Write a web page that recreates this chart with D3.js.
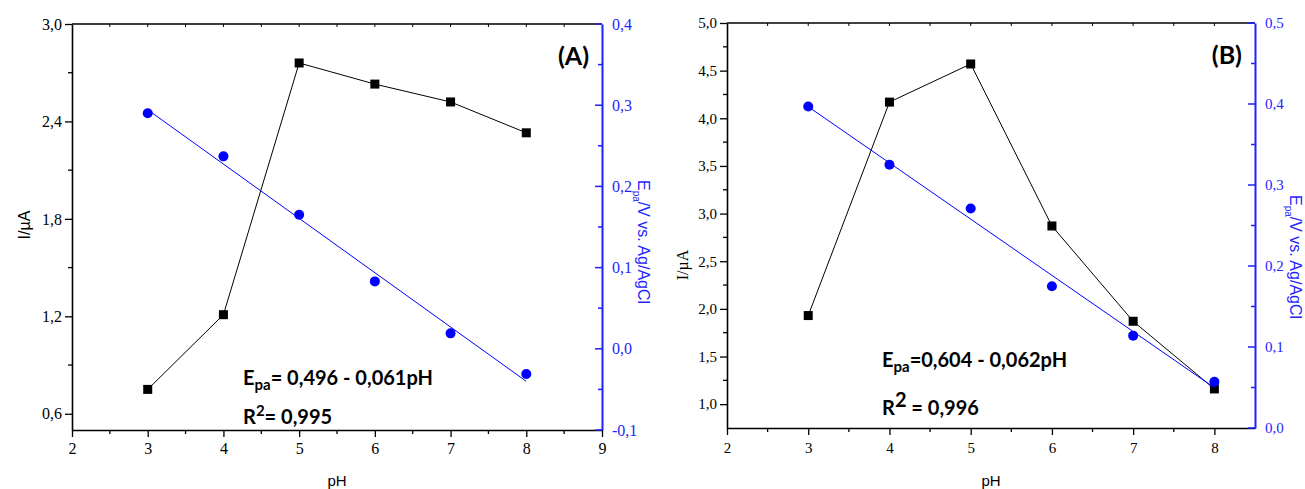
<!DOCTYPE html>
<html>
<head>
<meta charset="utf-8">
<script src="https://cdn.jsdelivr.net/npm/d3@7"></script>
<style>
  html, body { margin: 0; padding: 0; background: #fff; }
  svg { display: block; }
</style>
</head>
<body>
<svg id="chart" width="1305" height="489"></svg>
<script>
// pH values shared by both panels
const pH = [3, 4, 5, 6, 7, 8];

// Panel A: peak current (µA) and peak potential (V vs. Ag/AgCl)
const currentA = [0.75, 1.21, 2.76, 2.63, 2.52, 2.33];
const potentialA = [0.290, 0.237, 0.165, 0.083, 0.019, -0.031];

// Panel B
const currentB = [1.93, 4.17, 4.57, 2.87, 1.87, 1.16];
const potentialB = [0.397, 0.325, 0.271, 0.175, 0.114, 0.057];

// Axis ticks
const xTicksA = [2, 3, 4, 5, 6, 7, 8, 9];
const yLeftTicksA = [0.6, 1.2, 1.8, 2.4, 3.0];
const yRightTicksA = [-0.1, 0.0, 0.1, 0.2, 0.3, 0.4];
const xTicksB = [2, 3, 4, 5, 6, 7, 8];
const yLeftTicksB = [1.0, 1.5, 2.0, 2.5, 3.0, 3.5, 4.0, 4.5, 5.0];
const yRightTicksB = [0.0, 0.1, 0.2, 0.3, 0.4, 0.5];

// Annotations
const eqA = { lhs: "E", sub: "pa", rhs: "= 0,496 - 0,061pH", r2: "= 0,995", label: "(A)" };
const eqB = { lhs: "E", sub: "pa", rhs: "=0,604 - 0,062pH", r2: " = 0,996", label: "(B)" };

const BLUE = "#0000ff";
const AXIS_BLUE = "#1f1fff";
const SERIF = "'Liberation Serif', 'Times New Roman', serif";
const SANS = "'Liberation Sans', Arial, sans-serif";
const BOLD = "Lato, 'Open Sans', sans-serif";
const fmt = d3.formatLocale({ decimal: ",", thousands: ".", grouping: [3], currency: ["", ""], minus: "-" }).format(".1f");

const svg = d3.select("#chart");

// least-squares fit used for the straight line through the potential points
function fit(xs, ys) {
  const mx = d3.mean(xs), my = d3.mean(ys);
  let sxy = 0, sxx = 0;
  xs.forEach((x, i) => { sxy += (x - mx) * (ys[i] - my); sxx += (x - mx) * (x - mx); });
  const b = sxy / sxx;
  return { a: my - b * mx, b };
}

function styleText(sel, size, color) {
  sel.selectAll("text").attr("font-family", SERIF).style("font-family", SERIF)
    .attr("font-size", size).attr("fill", color);
}

function panel(cfg) {
  const g = svg.append("g");
  const x = d3.scaleLinear().domain(cfg.xDomain).range([cfg.left, cfg.right]);
  const yL = d3.scaleLinear().domain(cfg.yLDomain).range([cfg.bottom, cfg.top]);
  const yR = d3.scaleLinear().domain(cfg.yRDomain).range([cfg.bottom, cfg.top]);

  // left axis (current)
  const gl = g.append("g").attr("transform", `translate(${cfg.left},0)`)
    .call(d3.axisLeft(yL).tickValues(cfg.yLTicks).tickFormat(fmt).tickSize(7).tickPadding(3).tickSizeOuter(0));
  gl.selectAll(".tick line").attr("stroke", "#000").attr("stroke-width", 1.3);
  gl.select(".domain").attr("stroke", "#000").attr("stroke-width", 1.6);
  styleText(gl, cfg.tickFont, "#000");
  const yMinor = cfg.yLTicks.map(t => t - cfg.yLStep / 2).filter(v => v > cfg.yLDomain[0]);
  g.selectAll(".minorL").data(yMinor).join("line")
    .attr("x1", cfg.left - 4).attr("x2", cfg.left).attr("y1", d => yL(d)).attr("y2", d => yL(d))
    .attr("stroke", "#000").attr("stroke-width", 1.3);

  // bottom axis (pH)
  const gb = g.append("g").attr("transform", `translate(0,${cfg.bottom})`)
    .call(d3.axisBottom(x).tickValues(cfg.xTicks).tickFormat(d3.format("d")).tickSize(7).tickPadding(cfg.xPad).tickSizeOuter(0));
  gb.selectAll(".tick line").attr("stroke", "#000").attr("stroke-width", 1.3);
  gb.select(".domain").attr("stroke", "#000").attr("stroke-width", 1.6);
  styleText(gb, cfg.tickFont, "#000");
  const xMinor = d3.range(cfg.xDomain[0] + 0.5, cfg.xDomain[1], 1);
  g.selectAll(".minorB").data(xMinor).join("line")
    .attr("x1", d => x(d)).attr("x2", d => x(d)).attr("y1", cfg.bottom).attr("y2", cfg.bottom + 4)
    .attr("stroke", "#000").attr("stroke-width", 1.3);

  // top frame with small inward ticks
  g.append("line").attr("x1", cfg.left).attr("x2", cfg.right).attr("y1", cfg.top).attr("y2", cfg.top)
    .attr("stroke", "#000").attr("stroke-width", 1.6);
  g.selectAll(".topT").data(d3.range(cfg.xDomain[0] + 0.5, cfg.xDomain[1], 0.5)).join("line")
    .attr("x1", d => x(d)).attr("x2", d => x(d)).attr("y1", cfg.top).attr("y2", cfg.top + 3)
    .attr("stroke", "#000").attr("stroke-width", 1);

  // right axis (potential), blue, ticks pointing inward
  const gr = g.append("g").attr("transform", `translate(${cfg.right},0)`)
    .call(d3.axisRight(yR).tickValues(cfg.yRTicks).tickFormat(fmt).tickSize(0).tickPadding(10).tickSizeOuter(0));
  gr.select(".domain").attr("stroke", AXIS_BLUE).attr("stroke-width", 2);
  gr.selectAll(".tick line").remove();
  styleText(gr, cfg.tickFont, AXIS_BLUE);
  g.selectAll(".majR").data(cfg.yRTicks).join("line")
    .attr("x1", cfg.right - 7).attr("x2", cfg.right).attr("y1", d => yR(d)).attr("y2", d => yR(d))
    .attr("stroke", AXIS_BLUE).attr("stroke-width", 1.5);
  g.selectAll(".minR").data(d3.range(cfg.yRDomain[0] + 0.05, cfg.yRDomain[1], 0.1)).join("line")
    .attr("x1", cfg.right - 4).attr("x2", cfg.right).attr("y1", d => yR(d)).attr("y2", d => yR(d))
    .attr("stroke", AXIS_BLUE).attr("stroke-width", 1.5);

  // current series: black squares joined by a thin line
  const cur = pH.map((p, i) => [p, cfg.current[i]]);
  g.append("path").datum(cur)
    .attr("d", d3.line().x(d => x(d[0])).y(d => yL(d[1])))
    .attr("fill", "none").attr("stroke", "#000").attr("stroke-width", 1);
  g.selectAll(".sq").data(cur).join("rect")
    .attr("x", d => x(d[0]) - 4.5).attr("y", d => yL(d[1]) - 4.5)
    .attr("width", 9).attr("height", 9).attr("fill", "#000");

  // potential series: blue circles with a fitted straight line
  const pot = pH.map((p, i) => [p, cfg.potential[i]]);
  const f = fit(pH, cfg.potential);
  const ends = [pH[0], pH[pH.length - 1]];
  g.append("line")
    .attr("x1", x(ends[0])).attr("y1", yR(f.a + f.b * ends[0]))
    .attr("x2", x(ends[1])).attr("y2", yR(f.a + f.b * ends[1]))
    .attr("stroke", BLUE).attr("stroke-width", 1);
  g.selectAll(".ci").data(pot).join("circle")
    .attr("cx", d => x(d[0])).attr("cy", d => yR(d[1])).attr("r", 5).attr("fill", BLUE);

  // axis titles
  g.append("text")
    .attr("transform", `translate(${cfg.yLTitleX},${cfg.yLTitleY}) rotate(-90)`)
    .attr("text-anchor", "middle").attr("font-family", cfg.yLTitleFont).attr("font-size", 16).attr("fill", "#000")
    .text("I/µA");
  g.append("text")
    .attr("x", (cfg.left + cfg.right) / 2).attr("y", cfg.xTitleY)
    .attr("text-anchor", "middle").attr("font-family", SANS).attr("font-size", 15).attr("fill", "#000")
    .text("pH");
  const rt = g.append("text")
    .attr("transform", `translate(${cfg.yRTitleX},${cfg.yRTitleY}) rotate(90)`)
    .attr("font-family", SANS).attr("font-size", 16).attr("fill", AXIS_BLUE);
  rt.append("tspan").text("E");
  rt.append("tspan").attr("font-size", 10).attr("dy", 5).text("pa");
  rt.append("tspan").attr("dy", -5).text("/V vs. Ag/AgCl");

  // panel letter
  g.append("text").attr("x", cfg.right - 13).attr("y", cfg.top + 41)
    .attr("text-anchor", "end").attr("font-family", BOLD).attr("font-weight", "bold")
    .attr("font-size", 25).attr("fill", "#000").text(cfg.eq.label);

  // regression equation and R²
  const e = g.append("text").attr("x", cfg.eqX).attr("y", cfg.eqY)
    .attr("font-family", BOLD).attr("font-weight", "bold").attr("font-size", 20).attr("fill", "#000");
  e.append("tspan").text(cfg.eq.lhs);
  e.append("tspan").attr("font-size", 15).attr("dy", 5).text(cfg.eq.sub);
  e.append("tspan").attr("dy", -5).text(cfg.eq.rhs);
  const r = g.append("text").attr("x", cfg.eqX).attr("y", cfg.r2Y)
    .attr("font-family", BOLD).attr("font-weight", "bold").attr("font-size", 20).attr("fill", "#000");
  r.append("tspan").text("R");
  r.append("tspan").attr("font-size", cfg.supSize).attr("dy", -8).text("2");
  r.append("tspan").attr("dy", 8).text(cfg.eq.r2);
}

panel({
  left: 72, right: 602, top: 24, bottom: 430,
  xDomain: [2, 9], yLDomain: [0.5, 3.0], yRDomain: [-0.1, 0.4],
  xTicks: xTicksA, yLTicks: yLeftTicksA, yLStep: 0.6, yRTicks: yRightTicksA,
  current: currentA, potential: potentialA,
  tickFont: 16, xPad: 6,
  yLTitleX: 30, yLTitleY: 225, yLTitleFont: SANS,
  xTitleY: 486, yRTitleX: 638, yRTitleY: 180,
  eq: eqA, eqX: 243, eqY: 385, r2Y: 424, supSize: 15
});

panel({
  left: 727, right: 1255, top: 23, bottom: 428,
  xDomain: [2, 8.5], yLDomain: [0.75, 5.0], yRDomain: [0.0, 0.5],
  xTicks: xTicksB, yLTicks: yLeftTicksB, yLStep: 0.5, yRTicks: yRightTicksB,
  current: currentB, potential: potentialB,
  tickFont: 15, xPad: 7,
  yLTitleX: 688, yLTitleY: 265, yLTitleFont: SERIF,
  xTitleY: 486, yRTitleX: 1290, yRTitleY: 195,
  eq: eqB, eqX: 882, eqY: 367, r2Y: 415, supSize: 20
});
</script>
</body>
</html>
